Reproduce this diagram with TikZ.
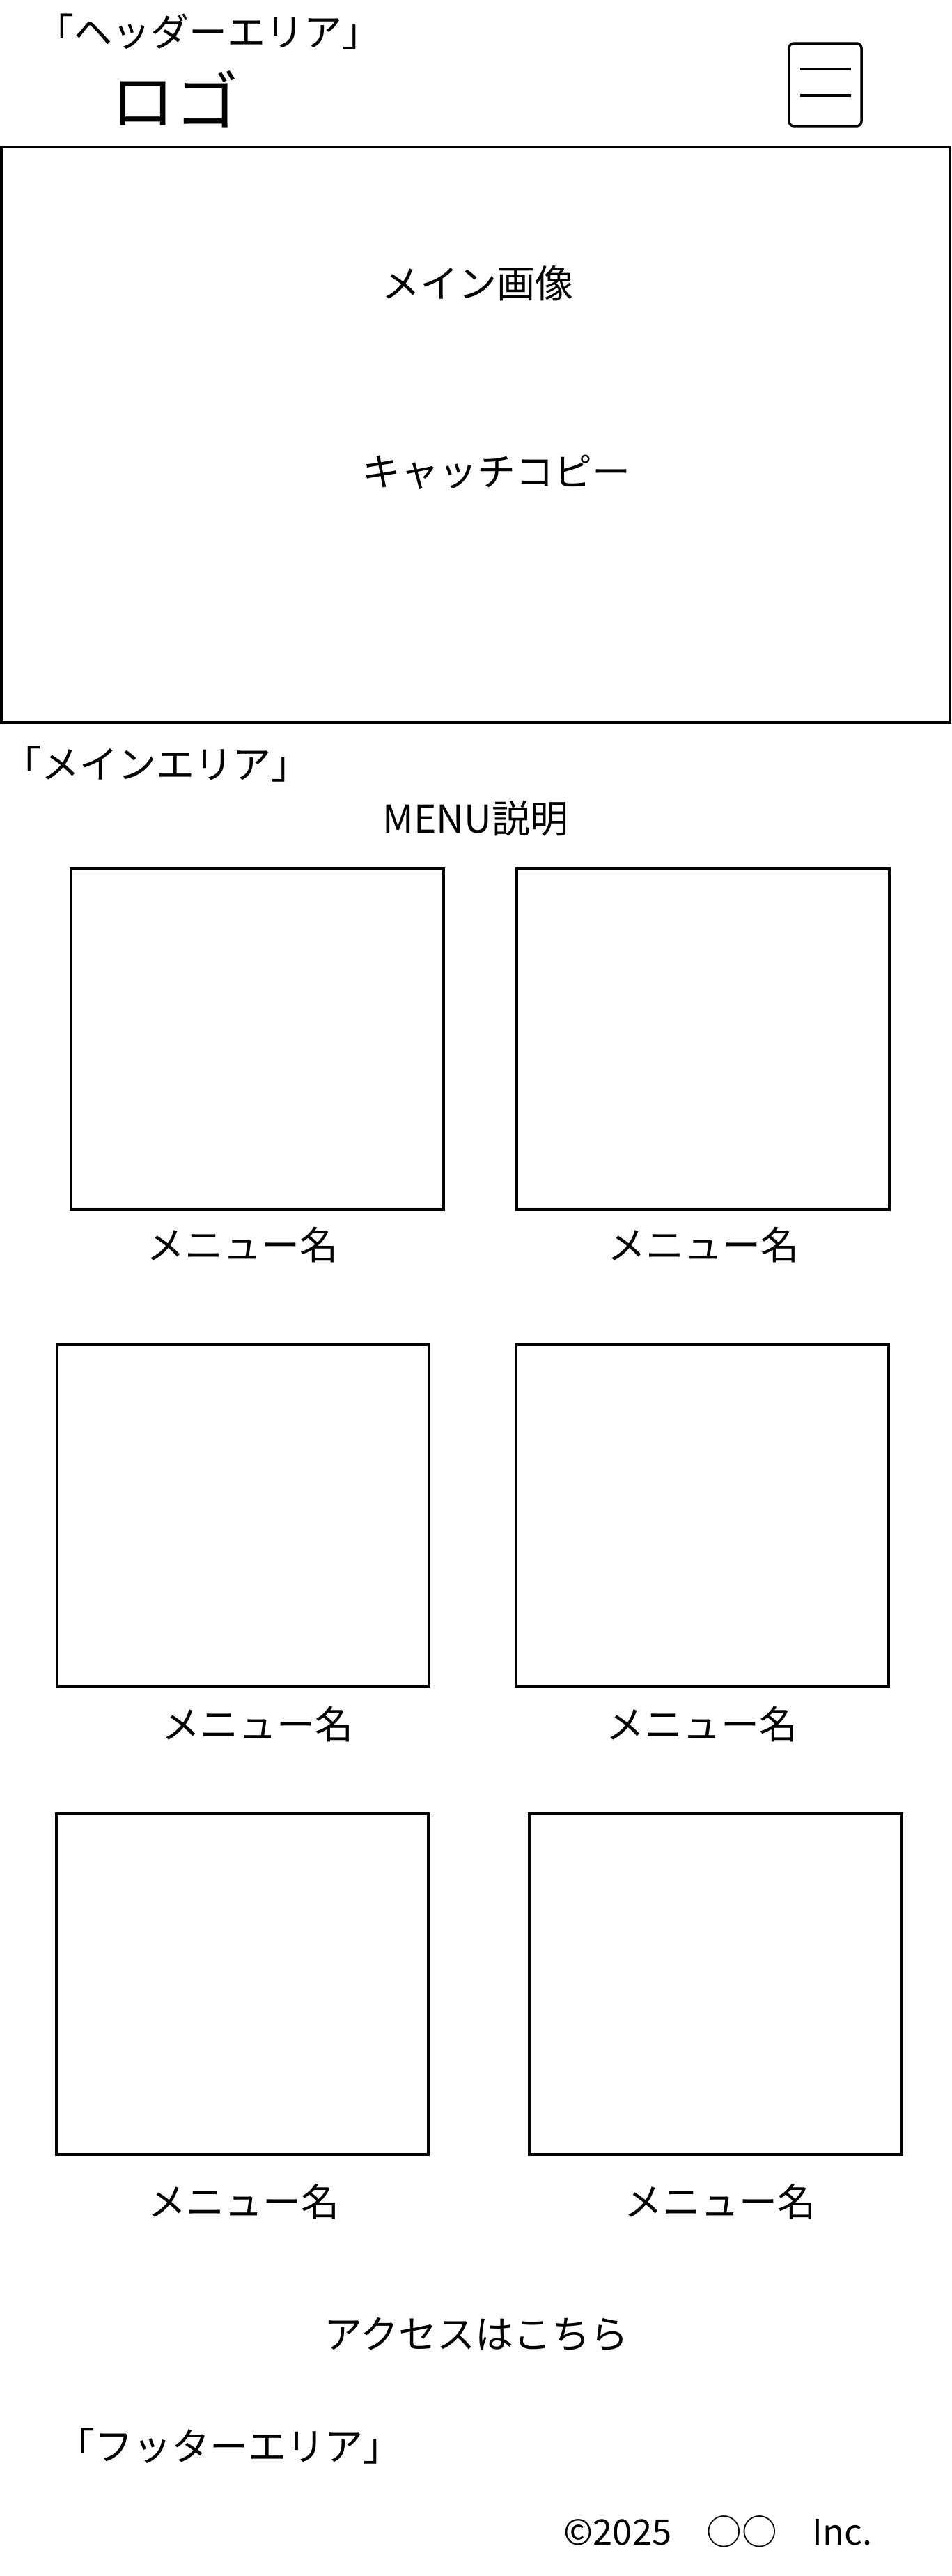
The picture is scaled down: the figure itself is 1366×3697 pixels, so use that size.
\documentclass[tikz,border=0pt]{standalone}
\usepackage{fontspec}
\setmainfont{Noto Sans CJK JP}
\usetikzlibrary{positioning}

\begin{document}
\begin{tikzpicture}[
        x=0.02cm, y=-0.02cm,
        frame/.style={draw, line width=0.08cm, inner sep=0pt},
        imgbox/.style={draw, line width=0.08cm, inner sep=0pt, minimum width=10.7cm, minimum height=9.8cm},
        txt/.style={inner sep=0pt, font=\fontsize{31.3}{37}\selectfont},
        small/.style={inner sep=0pt, font=\fontsize{28.8}{34}\selectfont},
        logo/.style={inner sep=0pt, font=\fontsize{52}{60}\selectfont},
        btn/.style={draw, line width=0.07cm, rounded corners=0.14cm, minimum width=2.08cm, minimum height=2.38cm},
        bar/.style={line width=0.07cm}
    ]
        \useasboundingbox (0,0) rectangle (1366,3697);

        % Header
        \node[txt] (lbHeader) at (299, 46) {「ヘッダーエリア」};
        \node[logo] (lbLogo) at (251, 142) {ロゴ};
        \node[btn] (menuBtn) at (1185, 121.5) {};
        \draw[bar] ([shift={(-36,-22.5)}]menuBtn.center) -- ([shift={(37,-22.5)}]menuBtn.center);
        \draw[bar] ([shift={(-36,15.5)}]menuBtn.center) -- ([shift={(37,15.5)}]menuBtn.center);

        % Main image
        \node[frame, minimum width=27.23cm, minimum height=16.54cm] (mainImg) at (683, 624) {};
        \node[txt] (lbImg) at (686, 407) {メイン画像};
        \node[txt] (lbCopy) at (713, 678) {キャッチコピー};

        % Main area
        \node[txt] (lbMain) at (224.5, 1097) {「メインエリア」};
        \node[txt] (lbMenu) at (683, 1175) {MENU説明};

        % Menu row 1
        \node[imgbox] (menuA) at (369.5, 1491.5) {};
        \node[imgbox] (menuB) at (1009.5, 1491.5) {};
        \node[txt] (nameA) at (348, 1787) {メニュー名};
        \node[txt] (nameB) at (1010, 1787) {メニュー名};

        % Menu row 2
        \node[imgbox] (menuC) at (349, 2175) {};
        \node[imgbox] (menuD) at (1008.5, 2175) {};
        \node[txt] (nameC) at (370, 2475) {メニュー名};
        \node[txt] (nameD) at (1008, 2475) {メニュー名};

        % Menu row 3
        \node[imgbox] (menuE) at (348, 2847.5) {};
        \node[imgbox] (menuF) at (1027.5, 2847.5) {};
        \node[txt] (nameE) at (350, 3160) {メニュー名};
        \node[txt] (nameF) at (1034, 3160) {メニュー名};

        % Footer
        \node[txt] (lbAccess) at (684, 3350) {アクセスはこちら};
        \node[txt] (lbFooter) at (329, 3511) {「フッターエリア」};
        \node[small] (lbCopyright) at (1031, 3633) {©2025　○○　Inc.};
    \end{tikzpicture}
\end{document}
